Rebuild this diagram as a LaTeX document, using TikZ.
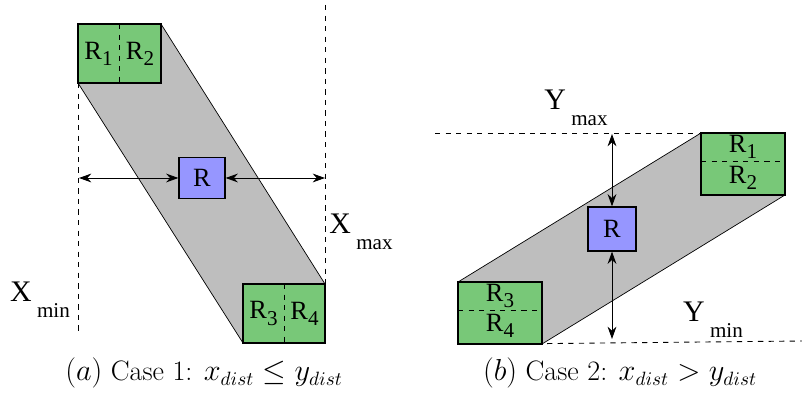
\documentclass[tikz,border=0pt]{standalone}
\usepackage{fontspec}
\newfontfamily\lblfont{Liberation Serif}
\usetikzlibrary{arrows.meta}

\definecolor{boxgreen}{RGB}{120,200,120}
\definecolor{boxblue}{RGB}{150,150,255}
\definecolor{bandgray}{RGB}{190,190,190}

\newcommand{\lowidx}[1]{\raisebox{-0.5ex}{\fontsize{12}{12}\selectfont #1}}
\newcommand{\bndlbl}[2]{#1\hspace{3pt}\raisebox{-1.2ex}{\fontsize{12}{12}\selectfont #2}}

\tikzset{
  band/.style={fill=bandgray,draw=black,line width=0.4pt},
  region/.style={fill=boxgreen,draw=black,line width=0.7pt},
  target/.style={draw=black,fill=boxblue,line width=0.7pt,inner sep=0pt,
    font=\lblfont\fontsize{15}{15}\selectfont},
  lbl/.style={font=\lblfont\fontsize{15}{15}\selectfont,inner sep=0pt},
  bndtext/.style={font=\lblfont\fontsize{17}{17}\selectfont,inner sep=0pt},
  bound/.style={dashed,line width=0.5pt},
  dist/.style={{Stealth[length=7pt,width=5pt]}-{Stealth[length=7pt,width=5pt]},line width=0.5pt},
  capt/.style={font=\fontsize{16}{18}\selectfont,inner sep=0pt},
}

\begin{document}
\begin{tikzpicture}[x=0.02cm,y=-0.02cm]
  \useasboundingbox (0,0) rectangle (802,394);
  % case 1: vertical band
  \begin{scope}
    \draw[band] (78,83) -- (161,24) -- (325,284) -- (243,343) -- cycle;
    \draw[bound] (78,83) -- (78,335);
    \draw[bound] (325,5) -- (325,284);
    \draw[region] (78,24) rectangle (161,83);
    \draw[dashed] (119.5,24) -- (119.5,83);
    \draw[region] (243,284) rectangle (325,343);
    \draw[dashed] (284,284) -- (284,343);
    \node[lbl] (r1) at (98.5,53.5) {R\lowidx{1}};
    \node[lbl] (r2) at (140,53.5) {R\lowidx{2}};
    \node[lbl] (r3) at (263.5,313.5) {R\lowidx{3}};
    \node[lbl] (r4) at (304.5,313.5) {R\lowidx{4}};
    \node[target,minimum width=0.92cm,minimum height=0.82cm] (ra) at (202,178) {R};
    \coordinate (xmin) at (79,178);
    \coordinate (xmax) at (325,178);
    \draw[dist] (xmin) -- (ra.west);
    \draw[dist] (ra.east) -- (xmax);
    \node[bndtext] (lxmax) at (361,232) {\bndlbl{X}{max}};
    \node[bndtext] (lxmin) at (40,300) {\bndlbl{X}{min}};
    \node[capt] (capa) at (204,373) {$(a)$ Case 1: $x_{dist}\leq y_{dist}$};
  \end{scope}
  % case 2: horizontal band
  \begin{scope}
    \draw[band] (458,282) -- (701,133) -- (785,195) -- (542,344) -- cycle;
    \draw[bound] (435,133) -- (701,133);
    \draw[region] (701,133) rectangle (785,195);
    \draw[dashed] (701,161) -- (785,161);
    \draw[region] (458,282) rectangle (542,344);
    \draw[dashed] (458,310) -- (542,310);
    \draw[bound] (505,344) -- (802,341);
    \node[lbl] (s1) at (743,147) {R\lowidx{1}};
    \node[lbl] (s2) at (743,178) {R\lowidx{2}};
    \node[lbl] (s3) at (500,296) {R\lowidx{3}};
    \node[lbl] (s4) at (500,326) {R\lowidx{4}};
    \node[target,minimum width=0.96cm,minimum height=0.88cm] (rb) at (612,229) {R};
    \coordinate (ymax) at (612,134);
    \coordinate (ymin) at (612,339);
    \draw[dist] (ymax) -- (rb.north);
    \draw[dist] (rb.south) -- (ymin);
    \node[bndtext] (lymax) at (576,108) {\bndlbl{Y}{max}};
    \node[bndtext] (lymin) at (713,320) {\bndlbl{Y}{min}};
    \node[capt] (capb) at (620,373) {$(b)$ Case 2: $x_{dist}>y_{dist}$};
  \end{scope}
\end{tikzpicture}
\end{document}
